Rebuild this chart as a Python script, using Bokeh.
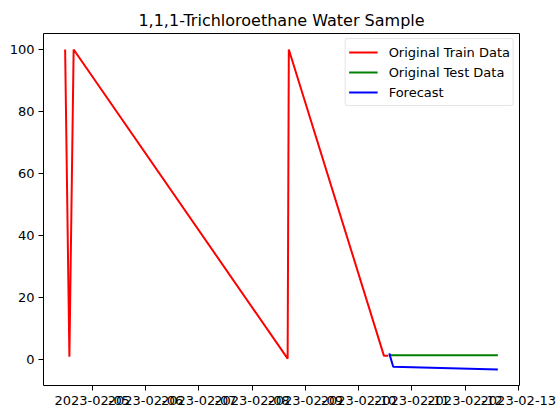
from datetime import datetime
from bokeh.plotting import figure
from bokeh.models import Range1d, FixedTicker, DatetimeTickFormatter, Legend, LegendItem
from bokeh.embed import file_html
from bokeh.resources import INLINE

title_text = "1,1,1-Trichloroethane Water Sample"

train_times = ["2023-02-04 11:46", "2023-02-04 13:41", "2023-02-04 15:36",
               "2023-02-08 16:02", "2023-02-08 16:34", "2023-02-10 11:27",
               "2023-02-10 13:22"]
train_vals = [100, 1.0, 100, 0.4, 100, 1.3, 1.3]

test_times = ["2023-02-10 14:08", "2023-02-12 14:46"]
test_vals = [1.5, 1.5]

fc_times = ["2023-02-10 13:49", "2023-02-10 15:37", "2023-02-12 14:46"]
fc_vals = [2.1, -2.2, -3.1]

x_tick_labels = ["2023-02-05", "2023-02-06", "2023-02-07", "2023-02-08", "2023-02-09",
                 "2023-02-10", "2023-02-11", "2023-02-12", "2023-02-13"]
y_ticks = [0, 20, 40, 60, 80, 100]

fmt = "%Y-%m-%d %H:%M"
def to_dt(lst):
    return [datetime.strptime(s, fmt) for s in lst]

tr_x, te_x, fc_x = to_dt(train_times), to_dt(test_times), to_dt(fc_times)

def ms(d):
    return (d - datetime(1970, 1, 1)).total_seconds() * 1000.0

all_x = [ms(d) for d in tr_x + te_x + fc_x]
all_y = train_vals + test_vals + fc_vals
xspan = max(all_x) - min(all_x)
yspan = max(all_y) - min(all_y)

p = figure(width=557, height=409, x_axis_type="datetime",
           output_backend="svg", toolbar_location=None,
           x_range=Range1d(min(all_x) - 0.05 * xspan, max(all_x) + 0.05 * xspan),
           y_range=Range1d(min(all_y) - 0.05 * yspan, max(all_y) + 0.05 * yspan),
           min_border_left=43, min_border_right=38, min_border_top=33, min_border_bottom=24)

p.title.text = title_text
p.title.align = "center"
p.title.text_font = "DejaVu Sans"
p.title.text_font_size = "16px"
p.title.text_font_style = "normal"
p.title.text_color = "black"
p.title.standoff = 7
p.title.offset = 0

r1 = p.line(tr_x, train_vals, line_color="#ff0000", line_width=2)
r2 = p.line(te_x, test_vals, line_color="#008000", line_width=2)
r3 = p.line(fc_x, fc_vals, line_color="#0000ff", line_width=2)

p.xgrid.visible = False
p.ygrid.visible = False
p.outline_line_color = "black"
p.outline_line_width = 1
p.background_fill_color = "white"
p.border_fill_color = "white"

tick_ms = [ms(datetime.strptime(s, "%Y-%m-%d")) for s in x_tick_labels]
p.xaxis.ticker = FixedTicker(ticks=tick_ms)
f = "%Y-%m-%d"
p.xaxis.formatter = DatetimeTickFormatter(milliseconds=f, seconds=f, minsec=f, minutes=f,
                                          hourmin=f, hours=f, days=f, months=f, years=f)
p.yaxis.ticker = FixedTicker(ticks=y_ticks)

for ax in (p.xaxis, p.yaxis):
    ax.axis_line_color = None
    ax.major_tick_out = 5
    ax.major_tick_in = 0
    ax.minor_tick_out = 0
    ax.minor_tick_in = 0
    ax.major_tick_line_color = "black"
    ax.major_label_text_font = "DejaVu Sans"
    ax.major_label_text_font_size = "13px"
    ax.major_label_text_color = "black"
p.xaxis.major_label_standoff = 5
p.yaxis.major_label_standoff = 4

legend = Legend(items=[LegendItem(label="Original Train Data", renderers=[r1]),
                       LegendItem(label="Original Test Data", renderers=[r2]),
                       LegendItem(label="Forecast", renderers=[r3])],
                location="top_right")
legend.margin = 5
legend.padding = 3
legend.spacing = 0
legend.glyph_width = 29
legend.glyph_height = 20
legend.label_height = 20
legend.label_standoff = 11
legend.label_text_font = "DejaVu Sans"
legend.label_text_font_size = "13px"
legend.label_text_color = "black"
legend.border_line_color = "#cccccc"
legend.border_line_width = 1
legend.border_radius = 3
legend.background_fill_alpha = 0.8
p.add_layout(legend)

open("out.html", "w").write(file_html(p, INLINE))
